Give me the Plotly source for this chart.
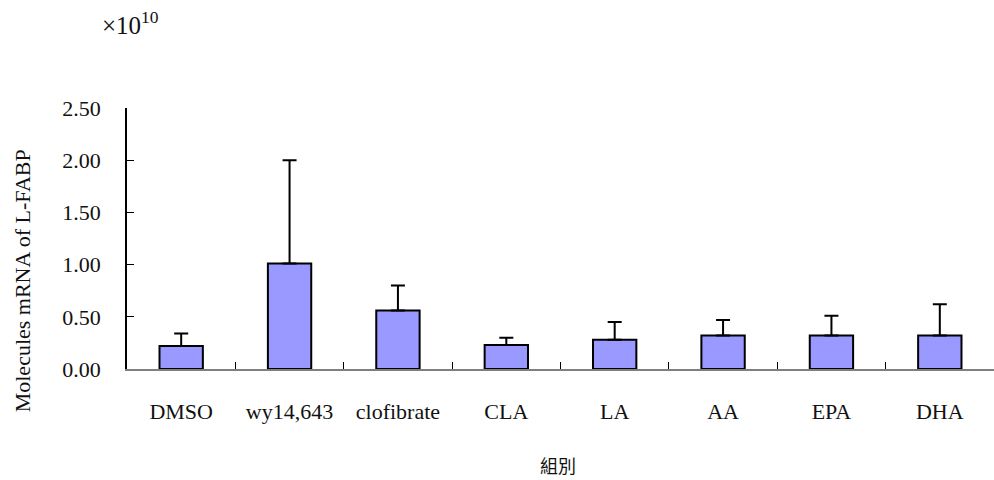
import plotly.graph_objects as go

# Group labels and L-FABP mRNA copy numbers (units of 1e10)
groups = ["DMSO", "wy14,643", "clofibrate", "CLA", "LA", "AA", "EPA", "DHA"]
mean_vals = [0.22, 1.01, 0.56, 0.23, 0.28, 0.32, 0.32, 0.32]
sd_vals = [0.12, 0.99, 0.24, 0.07, 0.17, 0.15, 0.19, 0.30]
y_ticks = [0.0, 0.5, 1.0, 1.5, 2.0, 2.5]
y_ticktext = ["0.00", "0.50", "1.00", "1.50", "2.00", "2.50"]

SERIF = "Liberation Serif"

fig = go.Figure()
fig.add_trace(go.Bar(
    x=groups,
    y=mean_vals,
    width=0.4,
    marker=dict(color="#9999FF", line=dict(color="black", width=2)),
    error_y=dict(type="data", array=sd_vals, arrayminus=[0] * len(sd_vals),
                 symmetric=False, color="black", thickness=2, width=7),
    showlegend=False,
))

fig.update_layout(
    width=994, height=480,
    margin=dict(l=127, r=0, t=108, b=111),
    plot_bgcolor="white", paper_bgcolor="white",
    font=dict(family=SERIF, size=22, color="#111"),
    bargap=0.6,
)

fig.update_xaxes(
    type="category",
    range=[-0.5, 7.5],
    showline=True, linecolor="#7f7f7f", linewidth=2,
    ticks="inside", tickson="boundaries", ticklen=7, tickcolor="black", tickwidth=1,
    showgrid=False, zeroline=False,
    ticklabelstandoff=22,
    tickfont=dict(family=SERIF, size=22),
)

fig.update_yaxes(
    range=[0, 2.5],
    tickvals=y_ticks, ticktext=y_ticktext,
    showline=True, linecolor="black", linewidth=1.5,
    ticks="inside", ticklen=7, tickcolor="black", tickwidth=1,
    showgrid=False, zeroline=False,
    ticklabelstandoff=20,
    tickfont=dict(family=SERIF, size=22),
)

fig.add_annotation(
    text="Molecules mRNA of L-FABP", textangle=-90,
    xref="paper", yref="paper", x=0, y=0.336,
    xanchor="center", yanchor="middle", xshift=-105, showarrow=False,
    font=dict(family=SERIF, size=22),
)
fig.add_annotation(
    text="組別",
    xref="paper", yref="paper", x=0.497, y=-0.3685,
    xanchor="center", yanchor="middle", showarrow=False,
    font=dict(family="Noto Sans CJK TC", size=18),
)
fig.add_annotation(
    text="×10<sup>10</sup>",
    xref="paper", yref="paper", x=0, y=1.325,
    xanchor="center", yanchor="middle", xshift=3, showarrow=False,
    font=dict(family=SERIF, size=25),
)

fig.write_html("out.html")
